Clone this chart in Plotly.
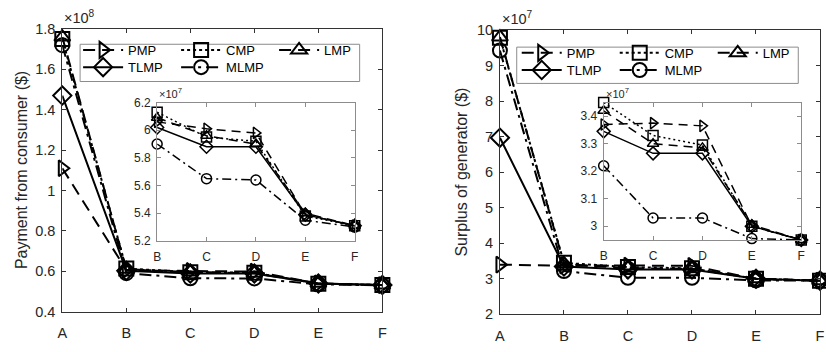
import plotly.graph_objects as go

# ---------------------------------------------------------------- data
categories = ["A", "B", "C", "D", "E", "F"]
inset_categories = ["B", "C", "D", "E", "F"]
methods = ["PMP", "CMP", "LMP", "TLMP", "MLMP"]

# Payment from consumer ($)
payment_pmp = [1.11e8, 6.06e7, 6.01e7, 5.98e7, 5.39e7, 5.31e7]
payment_cmp = [1.75e8, 6.13e7, 5.95e7, 5.92e7, 5.38e7, 5.31e7]
payment_lmp = [1.76e8, 6.09e7, 5.96e7, 5.90e7, 5.40e7, 5.31e7]
payment_tlmp = [1.47e8, 6.02e7, 5.88e7, 5.88e7, 5.39e7, 5.31e7]
payment_mlmp = [1.72e8, 5.90e7, 5.65e7, 5.64e7, 5.35e7, 5.30e7]

# Surplus of generator ($)
surplus_pmp = [3.40e7, 3.37e7, 3.375e7, 3.365e7, 3.00e7, 2.95e7]
surplus_cmp = [9.78e7, 3.45e7, 3.33e7, 3.295e7, 3.00e7, 2.95e7]
surplus_lmp = [9.80e7, 3.42e7, 3.30e7, 3.285e7, 3.005e7, 2.95e7]
surplus_tlmp = [6.97e7, 3.345e7, 3.265e7, 3.265e7, 3.00e7, 2.95e7]
surplus_mlmp = [9.42e7, 3.22e7, 3.03e7, 3.03e7, 2.955e7, 2.95e7]

payment_ticks = [0.4, 0.6, 0.8, 1.0, 1.2, 1.4, 1.6, 1.8]          # x 1e8
payment_inset_ticks = [5.2, 5.4, 5.6, 5.8, 6.0, 6.2]              # x 1e7
surplus_ticks = [2, 3, 4, 5, 6, 7, 8, 9, 10]                       # x 1e7
surplus_inset_ticks = [3.0, 3.1, 3.2, 3.3, 3.4]                    # x 1e7

payment = dict(PMP=payment_pmp, CMP=payment_cmp, LMP=payment_lmp,
               TLMP=payment_tlmp, MLMP=payment_mlmp)
surplus = dict(PMP=surplus_pmp, CMP=surplus_cmp, LMP=surplus_lmp,
               TLMP=surplus_tlmp, MLMP=surplus_mlmp)

# ---------------------------------------------------------------- style
W, H = 826, 352
FONT = "Liberation Sans, Arial, Helvetica, sans-serif"
TXT = "#262626"

symbols = dict(PMP="triangle-right-open", CMP="square-open", LMP="triangle-up-open",
               TLMP="diamond-open", MLMP="circle-open")
dash_main = dict(PMP="12px,7px", CMP="3px,3px", LMP="12px,7px",
                 TLMP="solid", MLMP="12px,5px,3px,5px")
dash_inset = dict(PMP="9px,6px", CMP="2px,3px", LMP="9px,6px",
                  TLMP="solid", MLMP="9px,4px,2px,4px")
legend_row = dict(PMP=0, CMP=0, LMP=0, TLMP=1, MLMP=1)


def px(x):
    return x / W


def py(y):
    return 1 - y / H


def fmt(v):
    return ("%g" % v)


fig = go.Figure()

panels = [
    # (data, main axes, inset axes, legends)
    (payment, ("x", "y"), ("x2", "y2"), ("legend", "legend2")),
    (surplus, ("x3", "y3"), ("x4", "y4"), ("legend3", "legend4")),
]

for data, (mx, my), (ix, iy), legs in panels:
    for m in methods:
        fig.add_trace(go.Scatter(
            x=categories, y=data[m], name=m, xaxis=mx, yaxis=my,
            mode="lines+markers", cliponaxis=False,
            line=dict(color="black", width=2, dash=dash_main[m]),
            marker=dict(symbol=symbols[m], size=14, color="black",
                        line=dict(color="black", width=2)),
            legend=legs[legend_row[m]], showlegend=True,
        ))
    for m in methods:
        fig.add_trace(go.Scatter(
            x=inset_categories, y=data[m][1:], name=m, xaxis=ix, yaxis=iy,
            mode="lines+markers", cliponaxis=False, showlegend=False,
            line=dict(color="black", width=1.5, dash=dash_inset[m]),
            marker=dict(symbol=symbols[m], size=10, color="black",
                        line=dict(color="black", width=1.5)),
        ))


def xaxis_cfg(dom, cats, fsize, lc, standoff):
    return dict(domain=dom, type="category", categoryorder="array", categoryarray=cats,
                range=[0, len(cats) - 1], showline=True, linecolor=lc, linewidth=1,
                mirror="ticks", ticks="inside", ticklen=4, tickcolor=lc,
                showgrid=False, zeroline=False,
                tickfont=dict(family=FONT, size=fsize, color=TXT), ticklabelstandoff=standoff)


def yaxis_cfg(dom, rng, ticks, unit, fsize, lc):
    return dict(domain=dom, range=rng, tickvals=[t * unit for t in ticks],
                ticktext=[fmt(t) for t in ticks], showline=True, linecolor=lc,
                linewidth=1, mirror="ticks", ticks="inside", ticklen=4, tickcolor=lc,
                showgrid=False, zeroline=False,
                tickfont=dict(family=FONT, size=fsize, color=TXT), ticklabelstandoff=3)


MAIN_LC = "#333333"
INSET_LC = "#8c8c8c"

fig.update_layout(
    xaxis=xaxis_cfg([px(58), px(382)], categories, 14.5, MAIN_LC, 8) | dict(anchor="y"),
    yaxis=yaxis_cfg([py(318), py(22)], [0.4e8, 1.8e8], payment_ticks, 1e8, 14.5, MAIN_LC)
    | dict(anchor="x"),
    xaxis2=xaxis_cfg([px(154), px(354)], inset_categories, 12, INSET_LC, 5) | dict(anchor="y2"),
    yaxis2=yaxis_cfg([py(244), py(99)], [5.2e7, 6.2e7], payment_inset_ticks, 1e7, 12, INSET_LC)
    | dict(anchor="x2"),
    xaxis3=xaxis_cfg([px(501), px(825)], categories, 14.5, MAIN_LC, 8) | dict(anchor="y3"),
    yaxis3=yaxis_cfg([py(321), py(23)], [2e7, 10e7], surplus_ticks, 1e7, 14.5, MAIN_LC)
    | dict(anchor="x3"),
    xaxis4=xaxis_cfg([px(606), px(806)], inset_categories, 12, INSET_LC, 5) | dict(anchor="y4"),
    yaxis4=yaxis_cfg([py(243), py(99)], [2.95e7, 3.45e7], surplus_inset_ticks, 1e7, 12, INSET_LC)
    | dict(anchor="x4"),
)

# legends: two rows per panel, three fixed-width columns
def legend_cfg(x, y):
    return dict(x=px(x), y=py(y), xanchor="left", yanchor="middle", orientation="h",
                entrywidth=43, entrywidthmode="pixels", itemwidth=40,
                bgcolor="rgba(0,0,0,0)", borderwidth=0, tracegroupgap=0,
                font=dict(family=FONT, size=13, color="black"))


fig.update_layout(
    legend=legend_cfg(74, 44), legend2=legend_cfg(74, 62),
    legend3=legend_cfg(518, 47), legend4=legend_cfg(518, 65),
)

shapes = []
for x0, y0, x1, y1 in [(76, 38, 359, 77), (518, 41, 803, 79)]:
    shapes.append(dict(type="rect", xref="paper", yref="paper", x0=px(x0), x1=px(x1),
                       y0=py(y1), y1=py(y0), line=dict(color="#8c8c8c", width=1),
                       fillcolor="white", layer="below"))

annotations = [
    dict(text="Payment from consumer ($)", x=px(16), y=py(170), textangle=-90),
    dict(text="Surplus of generator ($)", x=px(462), y=py(172), textangle=-90),
]
for a in annotations:
    a.update(xref="paper", yref="paper", showarrow=False, xanchor="center", yanchor="middle",
             font=dict(family=FONT, size=16, color=TXT))

exps = [(58, 21, "8", 14.5), (501, 22, "7", 14.5), (154, 98, "7", 11), (606, 98, "7", 11)]
for x, y, e, s in exps:
    annotations.append(dict(text="×10<sup>%s</sup>" % e, x=px(x), y=py(y), xref="paper",
                            yref="paper", showarrow=False, xanchor="left", yanchor="bottom",
                            font=dict(family=FONT, size=s, color=TXT)))

fig.update_layout(
    width=W, height=H, margin=dict(l=0, r=0, t=0, b=0),
    paper_bgcolor="white", plot_bgcolor="white",
    shapes=shapes, annotations=annotations, showlegend=True,
)

fig.write_html("out.html")
